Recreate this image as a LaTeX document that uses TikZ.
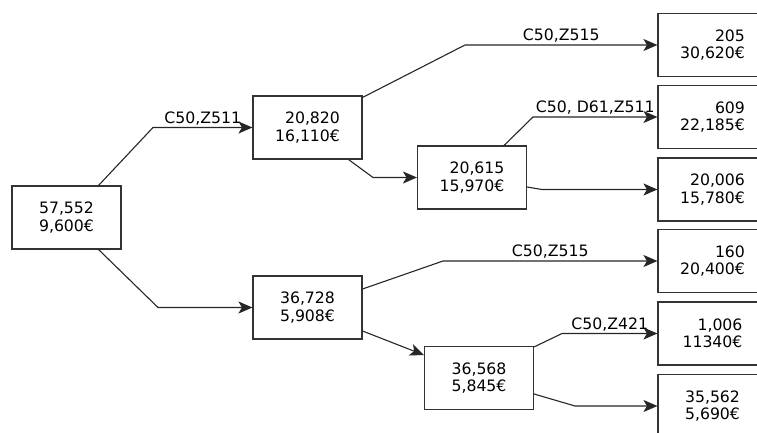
\documentclass[tikz,border=0pt]{standalone}
\usepackage{fontspec}
\setmainfont{DejaVu Sans}
\usetikzlibrary{arrows.meta}

\tikzset{
    box/.style={draw=black!80, line width=1.1pt, minimum width=109pt, minimum height=63pt,
        align=right, inner sep=0pt, font=\fontsize{15.7}{17.5}\selectfont},
    arr/.style={draw=black!85, line width=1.1pt, -{Stealth[length=14pt,width=12pt,inset=3.5pt]}},
    lab/.style={above, inner sep=2pt, font=\fontsize{15.7}{17.5}\selectfont}
}

\begin{document}
\begin{tikzpicture}[x=1pt,y=-1pt]
    \useasboundingbox (0,0) rectangle (757,433);
    \clip (0,0) rectangle (757,433);

    % Split tree: count and cost per group
    \node[box] (root) at (66.5,217.5) {57,552\\9,600€};
    \node[box] (A) at (307.5,127.5) {20,820\\16,110€};
    \node[box] (B) at (472,177.5) {20,615\\15,970€};
    \node[box] (C) at (307.5,307.5) {36,728\\5,908€};
    \node[box] (D) at (479,378) {36,568\\5,845€};

    % Leaves, cut by the right edge
    \foreach \n/\y/\txt in {l1/45/{205\\30,620€}, l2/117/{609\\22,185€}, l3/189.5/{20,006\\15,780€},
                            l4/261/{160\\20,400€}, l5/333.5/{1,006\\11340€}, l6/406/{35,562\\5,690€}} {
        \node[box] (\n) at (712.5,\y) {\txt};
    }

    % Connectors
    \draw[arr] ([xshift=-23pt]root.north east) -- (153,0 |- A.west) -- node[lab] {C50,Z511} (A.west);
    \draw[arr] ([xshift=-23pt]root.south east) -- (158,0 |- C.west) -- (C.west);

    \draw[arr] ([yshift=-2pt]A.north east) -- (465,0 |- l1.west) -- node[lab] {C50,Z515} (l1.west);
    \draw[arr] ([xshift=-14pt]A.south east) -- (373,0 |- B.west) -- (B.west);

    \draw[arr] ([xshift=-23pt]B.north east) -- (533,0 |- l2.west) -- node[lab] {C50, D61,Z511} (l2.west);
    \draw[arr] ([yshift=-9.5pt]B.east) -- (542,0 |- l3.west) -- (l3.west);

    \draw[arr] ([yshift=18.5pt]C.east) -- (443,0 |- l4.west) -- node[lab] {C50,Z515} (l4.west);
    \draw[arr] ([yshift=-23.5pt]C.east) -- ([yshift=23pt]D.west);

    \draw[arr] ([yshift=-1pt]D.north east) -- (562,0 |- l5.west) -- node[lab] {C50,Z421} (l5.west);
    \draw[arr] ([yshift=-16pt]D.east) -- (575,0 |- l6.west) -- (l6.west);
\end{tikzpicture}
\end{document}
